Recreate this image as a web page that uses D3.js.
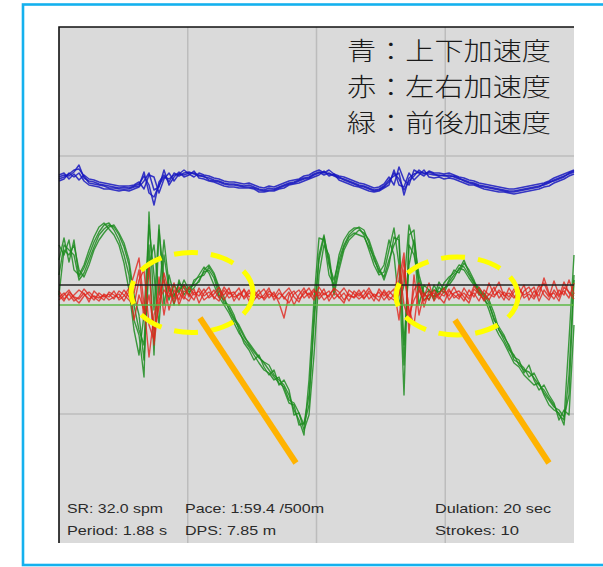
<!DOCTYPE html>
<html>
<head>
<meta charset="utf-8">
<script src="https://cdn.jsdelivr.net/npm/d3@7"></script>
<style>
  body { margin: 0; background: #fff; }
  svg { display: block; }
</style>
</head>
<body>
<svg id="chart" width="603" height="567"></svg>
<script>
// 10 strokes overlaid, 2 stroke periods shown (1.88 s each)
const duration = 3.76;
const nSamples = 104;
const dt = duration / (nSamples - 1);
const gridTimes = [0.94, 1.88, 2.82];
const gridValues = [129, -129];

// vertical (blue)
const blueA = [108,110,109,113,120,107,104,103,101,100,
  99,98,97,98,97,99,101,109,100,80,
  103,110,103,112,109,112,113,111,110,108,
  107,105,104,102,101,101,100,99,100,98,
  96,95,97,96,98,100,102,103,105,107,
  108,111,113,110,112,109,107,106,104,102,
  100,99,97,95,96,99,105,109,112,90,
  107,111,113,112,111,110,110,109,110,108,
  106,105,103,102,100,99,98,97,96,95,
  94,94,95,96,97,98,99,100,102,105,
  107,109,111,113];
const blueB = [104,106,112,108,112,104,100,99,98,96,
  96,95,94,95,94,96,98,104,112,95,
  98,115,100,108,113,108,110,114,107,106,
  104,103,101,99,98,98,97,97,97,96,
  93,93,94,94,96,97,100,101,102,104,
  106,108,110,114,109,111,105,103,101,99,
  98,96,94,93,94,97,100,115,100,98,
  112,105,110,115,108,107,108,106,107,106,
  104,102,100,100,98,96,95,94,93,93,
  92,91,92,93,94,95,96,98,99,102,
  104,106,109,111];
const blueC = [110,112,106,111,105,110,106,105,103,102,
  101,100,99,99,99,100,103,96,110,108,
  92,106,112,104,111,115,111,108,112,110,
  109,107,106,104,103,103,102,101,102,100,
  98,97,99,98,100,102,104,105,106,109,
  110,113,115,112,115,111,109,108,106,104,
  102,101,99,97,98,101,108,100,118,105,
  100,115,112,109,114,112,112,111,112,110,
  108,107,105,104,102,101,100,99,98,97,
  96,96,97,98,99,100,101,102,104,107,
  109,111,113,115];
const blueD = [106,108,111,115,116,109,102,101,100,99,
  97,97,96,96,96,98,99,113,92,88,
  100,108,106,110,111,110,112,112,109,109,
  105,104,103,101,100,100,99,98,98,97,
  95,94,95,95,97,99,101,102,104,106,
  107,110,112,113,111,110,108,105,103,101,
  99,98,96,94,95,98,103,112,106,95,
  104,109,115,111,113,111,109,110,108,109,
  107,104,102,101,99,98,97,96,95,94,
  93,93,94,95,96,97,98,101,103,104,
  106,108,112,114];

// lateral (red)
const redA = [-12,-8,-15,-10,-5,-9,-14,-11,-13,-10,
  -15,-12,-9,-16,-6,10,27,-20,-72,-30,
  -10,5,-25,-5,-15,0,-12,-4,-18,-8,
  -2,-14,-6,-10,-3,-16,-8,-12,-5,-15,
  -9,-4,-13,-7,-18,-33,-10,-6,-14,-9,
  -3,-12,-7,-15,-10,-4,-13,-8,-16,-6,
  -11,-5,-14,-9,-12,-7,-15,-10,5,32,
  -48,10,-30,-8,-15,-5,-12,-18,-6,-10,
  -14,-3,-11,-8,-16,-5,-10,-2,-13,-7,
  -12,-4,-9,0,-15,-6,-11,7,-8,-14,
  -5,-10,5,-9];
const redB = [-6,-14,-9,-16,-12,-4,-10,-15,-8,-12,
  -9,-14,-6,-10,-15,-20,5,15,-40,-55,
  8,-30,0,-18,-8,-14,-2,-10,-6,-15,
  -11,-5,-13,-2,-9,-7,-15,-4,-12,-8,
  -14,-10,-3,-15,-8,-12,-18,-9,-5,-13,
  -8,-15,-2,-10,-6,-14,-9,-3,-11,-12,
  -5,-13,-8,-16,-4,-11,-6,-12,20,-20,
  -35,-5,2,-22,-6,-12,-9,-3,-15,-8,
  -6,-12,-18,-4,-9,-14,2,-10,-7,-15,
  -3,-11,-16,-6,-2,-12,0,-10,-15,-5,
  -12,3,-8,-14];
const redC = [-15,-10,-5,-13,-18,-11,-7,-12,-16,-9,
  -12,-6,-15,-11,-3,-35,-10,-25,20,-60,
  -15,-5,-12,2,-20,-6,-9,-15,-3,-11,
  -7,-12,-16,-5,-13,-9,-3,-14,-8,-11,
  -5,-15,-9,-12,-4,-14,-7,-20,-10,-3,
  -13,-6,-11,-4,-16,-8,-12,-18,-5,-9,
  -14,-10,-3,-12,-7,-15,-9,-4,-35,15,
  -25,-40,0,-12,2,-16,-8,-11,-4,-13,
  -9,-16,-5,-12,-2,-10,-15,-6,3,-11,
  -8,-13,-4,-10,-7,-2,-16,-5,-12,4,
  -10,-6,-13,2];
const redD = [-10,-16,-7,-12,-14,-8,-17,-6,-11,-15,
  -7,-10,-13,-5,-12,-8,15,-35,-10,-45,
  -22,12,-8,-14,-2,-12,-16,-7,-11,-4,
  -13,-9,-2,-15,-7,-12,-10,-5,-16,-6,
  -11,-13,-6,-10,-14,-8,-3,-12,-17,-6,
  -10,-4,-14,-8,-12,-3,-7,-15,-9,-13,
  -8,-14,-6,-11,-16,-5,-12,-15,-10,25,
  -30,-15,-5,-16,-10,-8,-14,-6,-11,-2,
  -12,-8,-14,-1,-7,-16,-9,-12,-5,-10,
  -15,-7,-2,-13,-9,-14,-5,2,-10,-8,
  -16,-2,-7,-11];

// fore-aft (green)
const greenA = [25,47,23,45,8,17,30,43,53,60,
  62,55,45,30,10,-35,-50,-92,73,-25,
  60,-20,10,-10,-5,0,-7,-3,5,13,
  15,7,-10,-15,-23,-33,-40,-50,-60,-67,
  -73,-77,-80,-90,-95,-100,-110,-125,-135,-150,
  -95,-15,47,45,10,0,30,45,53,57,
  57,50,35,20,10,13,35,57,20,-110,
  50,55,-5,-15,-10,-5,-7,-3,0,7,
  17,15,7,0,-7,-15,-20,-33,-45,-55,
  -65,-70,-80,-85,-87,-93,-100,-105,-113,-120,
  -130,-135,-55,30];
const greenB = [10,40,35,30,5,12,25,38,50,56,
  60,58,50,38,20,-20,-45,-60,40,-70,
  55,5,-15,0,-8,5,-5,2,10,18,
  12,0,-12,-20,-28,-38,-48,-55,-62,-70,
  -78,-85,-88,-95,-92,-105,-118,-120,-140,-138,
  -110,-40,30,50,20,5,25,40,50,55,
  58,55,42,25,15,8,25,40,50,-60,
  20,45,10,-8,-15,0,-10,2,8,12,
  20,18,10,2,-5,-12,-25,-40,-50,-58,
  -68,-78,-82,-90,-95,-100,-98,-110,-120,-125,
  -128,-140,-90,10];
const greenC = [40,30,45,15,10,20,35,48,58,62,
  56,50,40,22,-5,-45,-70,-30,60,10,
  -40,30,-5,-12,2,-3,-10,5,8,10,
  18,10,-5,-18,-20,-30,-45,-58,-65,-75,
  -70,-82,-90,-85,-100,-95,-105,-130,-128,-145,
  -130,-70,10,40,30,-5,20,38,48,52,
  50,48,38,28,12,20,45,30,-20,0,
  60,40,-20,0,-5,-12,3,-5,5,15,
  12,22,15,5,-10,-8,-15,-28,-45,-52,
  -60,-72,-75,-88,-80,-95,-105,-100,-110,-118,
  -135,-125,-130,-40];
const greenD = [-10,35,30,40,15,8,20,35,45,52,
  58,60,52,42,25,-10,-30,-75,20,40,
  -10,45,0,-20,5,-10,-2,0,3,15,
  20,12,-2,-12,-25,-35,-42,-52,-58,-65,
  -72,-78,-85,-92,-98,-102,-115,-118,-128,-140,
  -120,-30,25,48,25,-10,15,35,45,50,
  55,52,45,30,18,5,20,48,45,-80,
  40,30,5,-10,-5,-15,-2,-8,3,10,
  15,25,12,3,-3,-10,-18,-35,-42,-50,
  -62,-75,-78,-83,-92,-88,-98,-108,-115,-122,
  -125,-132,-110,5];

const greenRef = -20;

const legendLines = ['青：上下加速度', '赤：左右加速度', '緑：前後加速度'];
const infoText = [
  ['SR: 32.0 spm', 'Period: 1.88 s'],
  ['Pace: 1:59.4 /500m', 'DPS: 7.85 m'],
  ['Dulation: 20 sec', 'Strokes: 10']
];

// annotations: [time, value, rx(time), ry(value)]
const circles = [[0.971, -7.5, 0.445, 40], [2.906, -11, 0.445, 39]];
const arrows = [[1.029, -33, 1.73, -178], [2.891, -35, 3.577, -178]];

const svg = d3.select('#chart');
const plot = {l: 59, r: 574, t: 27, b: 543};

const x = d3.scaleLinear().domain([0, duration]).range([plot.l, plot.r]);
const y = d3.scaleLinear().domain([-258, 258]).range([plot.b, plot.t]);

// outer frame
svg.append('rect')
  .attr('x', 23).attr('y', 4.5).attr('width', 600).attr('height', 560.5)
  .attr('fill', 'none').attr('stroke', '#14b1ee').attr('stroke-width', 2.6);

svg.append('rect')
  .attr('x', plot.l).attr('y', plot.t)
  .attr('width', plot.r - plot.l).attr('height', plot.b - plot.t)
  .attr('fill', '#dadada');

const grid = svg.append('g').attr('stroke', '#bcbcbc').attr('stroke-width', 1.5);
grid.selectAll('.vg').data(gridTimes).join('line')
  .attr('x1', d => x(d)).attr('x2', d => x(d))
  .attr('y1', plot.t).attr('y2', plot.b);
grid.selectAll('.hg').data(gridValues).join('line')
  .attr('x1', plot.l).attr('x2', plot.r)
  .attr('y1', d => y(d)).attr('y2', d => y(d));

const line = d3.line().x((d, i) => x(i * dt)).y(d => y(d));

const drawTraces = (traces, color, w, op) => {
  svg.append('g').selectAll('path').data(traces).join('path')
    .attr('d', line)
    .attr('fill', 'none')
    .attr('stroke', color)
    .attr('stroke-width', w)
    .attr('stroke-opacity', op)
    .attr('stroke-linejoin', 'round');
};

drawTraces([blueA, blueB, blueC, blueD], '#1818bf', 1.5, 0.85);
drawTraces([greenA, greenB, greenC, greenD], '#1d8c20', 1.4, 0.85);
drawTraces([redA, redB, redC, redD], '#e0241c', 1.4, 0.8);

svg.append('line')
  .attr('x1', plot.l).attr('x2', plot.r)
  .attr('y1', y(greenRef)).attr('y2', y(greenRef))
  .attr('stroke', '#5cb845').attr('stroke-width', 1.3);
svg.append('line')
  .attr('x1', plot.l).attr('x2', plot.r)
  .attr('y1', y(0)).attr('y2', y(0))
  .attr('stroke', '#222').attr('stroke-width', 1.5);

// plot frame left/top
svg.append('path')
  .attr('d', `M${plot.l},${plot.b}V${plot.t}H${plot.r}`)
  .attr('fill', 'none').attr('stroke', '#111').attr('stroke-width', 1.6);

// annotations
svg.append('g').selectAll('ellipse').data(circles).join('ellipse')
  .attr('cx', d => x(d[0])).attr('cy', d => y(d[1]))
  .attr('rx', d => x(d[2]) - x(0)).attr('ry', d => d[3])
  .attr('fill', 'none').attr('stroke', '#ffff00')
  .attr('stroke-width', 5).attr('stroke-dasharray', '24 13');

svg.append('g').selectAll('line').data(arrows).join('line')
  .attr('x1', d => x(d[0])).attr('y1', d => y(d[1]))
  .attr('x2', d => x(d[2])).attr('y2', d => y(d[3]))
  .attr('stroke', '#ffb300').attr('stroke-width', 6);

// legend text (size kept so the line boxes don't collide, stretched to width)
svg.append('g').selectAll('text').data(legendLines).join('text')
  .attr('x', 347).attr('y', (d, i) => 60 + i * 36)
  .attr('font-family', '"Noto Sans CJK JP", sans-serif')
  .attr('font-size', 24.6).attr('font-weight', 300)
  .attr('fill', '#1a1a1a')
  .attr('textLength', 204).attr('lengthAdjust', 'spacingAndGlyphs')
  .text(d => d);

// info text
const infoX = [67, 185, 435];
const infoW = [[96, 100], [139, 91], [116, 84]];
infoText.forEach((col, c) => {
  col.forEach((t, r) => {
    svg.append('text')
      .attr('x', infoX[c]).attr('y', 513 + r * 22)
      .attr('font-family', '"Liberation Sans", Arial, sans-serif')
      .attr('font-size', 13.5).attr('fill', '#2a2a2a')
      .attr('textLength', infoW[c][r]).attr('lengthAdjust', 'spacingAndGlyphs')
      .text(t);
  });
});
</script>
</body>
</html>
